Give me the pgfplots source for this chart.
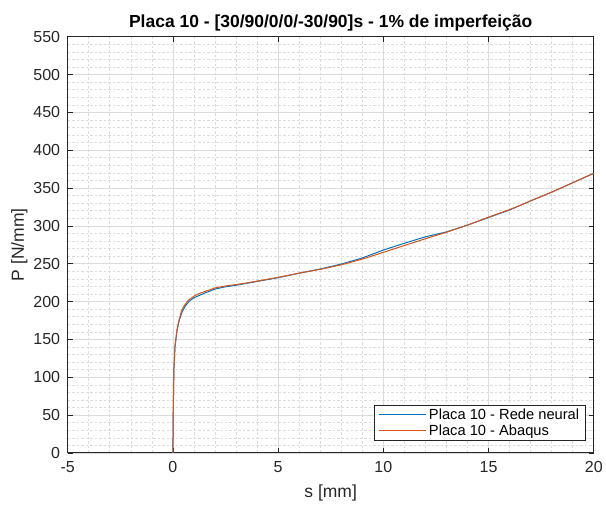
\documentclass[border=0pt]{standalone}
\usepackage{fontspec}
\setmainfont{Liberation Sans}
\usepackage{pgfplots}
\pgfplotsset{compat=1.18}
\definecolor{mblue}{rgb}{0,0.447,0.741}
\definecolor{morange}{rgb}{0.85,0.325,0.098}
\definecolor{axgray}{rgb}{0.15,0.15,0.15}
\begin{document}
\begin{tikzpicture}
\begin{axis}[
  name=ax,
  width=526.6pt, height=416.6pt, scale only axis,
  xmin=-5, xmax=20, ymin=0, ymax=550,
  xtick={-5,0,...,20}, ytick={0,50,...,550},
  minor x tick num=4, minor y tick num=4,
  grid=both,
  major grid style={color=black!14, line width=0.6pt},
  minor grid style={color=black!14, dash pattern=on 2.5pt off 2pt, line width=0.5pt},
  axis line style={axgray, line width=0.8pt},
  tick style={axgray, line width=0.7pt},
  major tick length=5pt, minor tick length=0pt,
  tick align=inside,
  /pgf/number format/assume math mode=true,
  ticklabel style={font=\fontsize{16}{19}\selectfont, text=axgray},
  xticklabel style={yshift=-5pt},
  yticklabel style={xshift=-4pt},
  xlabel={s [mm]}, ylabel={P [N/mm]},
  label style={font=\fontsize{17.5}{20}\selectfont, text=axgray},
  xlabel style={yshift=-5pt},
  ylabel style={yshift=-1pt},
  title={Placa 10 - [30/90/0/0/-30/90]s - 1\% de imperfeição},
  title style={font=\bfseries\fontsize{17.5}{20}\selectfont, text=black, yshift=-4pt},
  legend cell align=left,
  legend style={at={(1,0)}, anchor=south east, xshift=-8.3pt, yshift=12.3pt,
    draw=axgray, line width=0.6pt, font=\fontsize{14.7}{17}\selectfont,
    inner xsep=4pt, inner ysep=1.5pt, row sep=0pt},
  legend image code/.code={\draw[#1, line width=1pt] (0pt,0pt) -- (48pt,0pt);},
]
\addplot[mblue, line width=1pt] coordinates {
(0,0) (0.02,60) (0.05,110) (0.1,140) (0.2,162) (0.3,175) (0.45,187) (0.6,194.5)
(0.8,201) (1.0,205) (1.5,211) (2.0,216.5) (2.5,219.5) (3,221.5) (3.5,224) (4,226.5)
(5,231.5) (6,237.5) (7,243) (8,249.5) (9,257.5) (10,268) (11,277) (12,285.5)
(13,292) (14,301) (15,311) (16,321) (16.5,327) (17,333) (18,344.5) (19,357) (20,369.5)
};
\addlegendentry{Placa 10 - Rede neural}
\addplot[morange, line width=1pt] coordinates {
(0,0) (0.02,60) (0.05,110) (0.1,140) (0.18,160) (0.25,170) (0.4,187) (0.55,195)
(0.75,202) (1.0,207) (1.2,210) (1.5,213) (2.0,218) (2.5,220.5) (3.0,222.5) (3.5,224.5)
(4,227) (5,232) (6,237.5) (7,242.5) (8,248.5) (9,256) (10,265) (11,274) (12,283)
(13,291.5) (14,301) (15,311.5) (16,321.5) (16.5,327) (17,333) (18,344.5) (19,357) (20,369.5)
};
\addlegendentry{Placa 10 - Abaqus}
\end{axis}
\path ([shift={(-67.7pt,-53.7pt)}]ax.south west) rectangle ([shift={(11.7pt,36.7pt)}]ax.north east);
\end{tikzpicture}
\end{document}
